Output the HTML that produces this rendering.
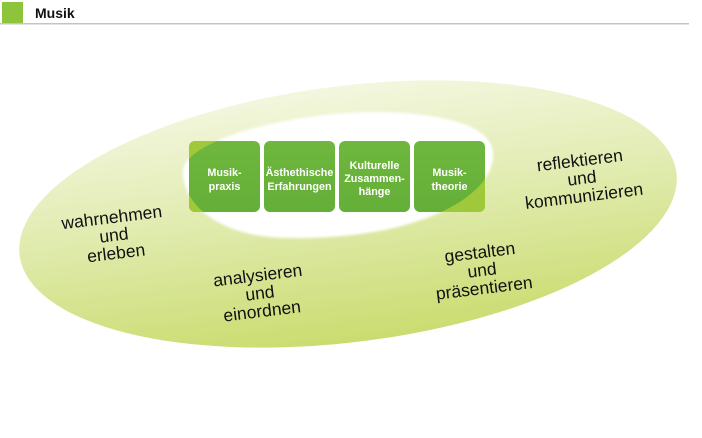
<!DOCTYPE html>
<html>
<head>
<meta charset="utf-8">
<style>
  html,body{margin:0;padding:0;background:#fff;}
  body{width:702px;height:438px;overflow:hidden;}
  svg{display:block;}
  .lbl{font-family:"Liberation Sans",sans-serif;font-size:17.5px;fill:#111;text-anchor:middle;}
  .bx{font-family:"Liberation Sans",sans-serif;font-size:10.8px;font-weight:bold;fill:#fff;text-anchor:middle;}
</style>
</head>
<body>
<svg width="702" height="438" viewBox="0 0 702 438" xmlns="http://www.w3.org/2000/svg">
  <defs>
    <linearGradient id="ring" gradientUnits="userSpaceOnUse" x1="0" y1="85" x2="0" y2="355">
      <stop offset="0" stop-color="#f3f7df"/>
      <stop offset="0.45" stop-color="#e0ebae"/>
      <stop offset="1" stop-color="#c8db6a"/>
    </linearGradient>
    <linearGradient id="box" x1="0" y1="0" x2="0" y2="1">
      <stop offset="0" stop-color="#6fb73e"/>
      <stop offset="1" stop-color="#64af38"/>
    </linearGradient>
    <clipPath id="boxes">
      <rect x="189" y="141" width="71" height="71" rx="6"/>
      <rect x="264" y="141" width="71" height="71" rx="6"/>
      <rect x="339" y="141" width="71" height="71" rx="6"/>
      <rect x="414" y="141" width="71" height="71" rx="6"/>
    </clipPath>
    <filter id="soft" x="-10%" y="-20%" width="120%" height="140%">
      <feGaussianBlur stdDeviation="1.2"/>
    </filter>
  </defs>

  <!-- header -->
  <rect x="2" y="2" width="21" height="21" fill="#8cc43c"/>
  <text x="35" y="18" font-family="Liberation Sans, sans-serif" font-size="14" font-weight="bold" fill="#111">Musik</text>
  <rect x="0" y="23" width="689" height="1.5" fill="#c4c4c4"/>

  <!-- outer ring -->
  <ellipse cx="348" cy="214" rx="331" ry="128" transform="rotate(-7.2 348 214)" fill="url(#ring)"/>
  <!-- inner white -->
  <path fill="#ffffff" filter="url(#soft)"
    d="M183,172 C183,140 290,113 370,112 C450,112 494,128 493,155 C494,195 420,240 290,238 C220,238 183,205 183,172 Z"/>

  <!-- boxes -->
  <g>
    <rect x="189" y="141" width="71" height="71" rx="6" fill="url(#box)"/>
    <rect x="264" y="141" width="71" height="71" rx="6" fill="url(#box)"/>
    <rect x="339" y="141" width="71" height="71" rx="6" fill="url(#box)"/>
    <rect x="414" y="141" width="71" height="71" rx="6" fill="url(#box)"/>
  </g>
  <!-- lime area outside inner shape, clipped to boxes -->
  <g clip-path="url(#boxes)">
    <path fill="#9fc93a" fill-rule="evenodd"
      d="M100,60 H600 V300 H100 Z M183,172 C183,140 290,113 370,112 C450,112 494,128 493,155 C494,195 420,240 290,238 C220,238 183,205 183,172 Z"/>
  </g>

  <!-- box labels -->
  <text class="bx" x="224.5" y="176">Musik-</text>
  <text class="bx" x="224.5" y="190">praxis</text>
  <text class="bx" x="299.5" y="176">Ästhethische</text>
  <text class="bx" x="299.5" y="190">Erfahrungen</text>
  <text class="bx" x="374.5" y="169">Kulturelle</text>
  <text class="bx" x="374.5" y="182">Zusammen-</text>
  <text class="bx" x="374.5" y="195">hänge</text>
  <text class="bx" x="449.5" y="176">Musik-</text>
  <text class="bx" x="449.5" y="190">theorie</text>

  <!-- ring labels -->
  <g transform="rotate(-7 114 236)">
    <text class="lbl" x="114" y="223">wahrnehmen</text>
    <text class="lbl" x="114" y="241">und</text>
    <text class="lbl" x="114" y="259">erleben</text>
  </g>
  <g transform="rotate(-7 260 294)">
    <text class="lbl" x="260" y="281">analysieren</text>
    <text class="lbl" x="260" y="299">und</text>
    <text class="lbl" x="260" y="317">einordnen</text>
  </g>
  <g transform="rotate(-7 482 270)">
    <text class="lbl" x="482" y="258">gestalten</text>
    <text class="lbl" x="482" y="276">und</text>
    <text class="lbl" x="482" y="294">präsentieren</text>
  </g>
  <g transform="rotate(-7 582 179)">
    <text class="lbl" x="582" y="166">reflektieren</text>
    <text class="lbl" x="582" y="184">und</text>
    <text class="lbl" x="582" y="202">kommunizieren</text>
  </g>
</svg>
</body>
</html>
